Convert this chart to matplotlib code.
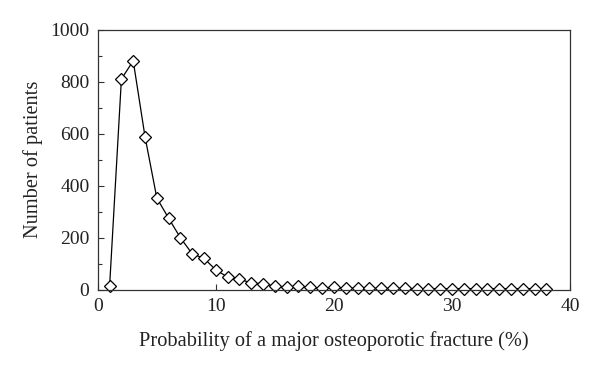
import matplotlib
matplotlib.use("Agg")
import matplotlib.pyplot as plt
from matplotlib.ticker import MultipleLocator

# probability (%) and patient counts
probability = list(range(1, 39))
patients = [13, 810, 880, 588, 352, 274, 199, 137, 120, 75,
            48, 40, 25, 22, 13, 8, 13, 8, 5, 8,
            5, 4, 4, 4, 4, 4, 3, 3, 3, 3,
            3, 3, 3, 3, 3, 3, 3, 3]

x_ticks = [0, 10, 20, 30, 40]
y_ticks = [0, 200, 400, 600, 800, 1000]

plt.rcParams["font.family"] = ["Liberation Serif", "DejaVu Serif"]


def main():
    fig = plt.figure(figsize=(6, 3.75), dpi=100)
    ax = fig.add_axes([0.163, 0.228, 0.787, 0.693])

    ax.plot(probability, patients, color="black", linewidth=0.9,
            marker="D", markersize=6.5, markerfacecolor="white",
            markeredgecolor="black", markeredgewidth=0.9, clip_on=False)

    ax.set_xlim(0, 40)
    ax.set_ylim(0, 1000)
    ax.set_xticks(x_ticks)
    ax.set_yticks(y_ticks)
    ax.yaxis.set_minor_locator(MultipleLocator(100))

    ax.tick_params(axis="both", which="major", direction="in", length=4,
                   width=0.8, labelsize=14, pad=6, color="#333333",
                   labelcolor="#222222")
    ax.tick_params(axis="y", which="minor", direction="in", length=3,
                   width=0.8, color="#333333")
    for spine in ax.spines.values():
        spine.set_linewidth(0.9)
        spine.set_color("#333333")

    ax.set_xlabel("Probability of a major osteoporotic fracture (%)",
                  fontsize=14.7, color="#222222", labelpad=12)
    ax.set_ylabel("Number of patients", fontsize=14.7, color="#222222",
                  labelpad=5)

    fig.savefig("out.png", dpi=100)
    plt.close(fig)


if __name__ == "__main__":
    main()
